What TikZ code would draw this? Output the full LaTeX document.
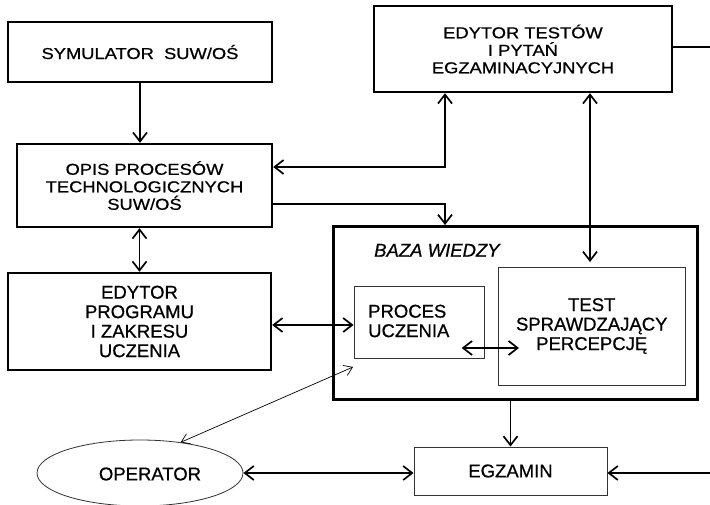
\documentclass[tikz,border=0pt]{standalone}
\usepackage{fontspec}
\setmainfont{Liberation Sans}[FakeBold=0.7]
\newfontfamily\widefont{Liberation Sans}[FakeStretch=1.16,FakeBold=0.7]
\usetikzlibrary{arrows.meta,shapes.geometric,calc}
\tikzset{
  upfont/.style={font=\widefont\fontsize{15.8}{17.5}\selectfont},
  lofont/.style={font=\fontsize{18.5}{19.5}\selectfont},
  itfont/.style={font=\itshape\fontsize{18.5}{19.5}\selectfont},
  thickbox/.style={draw, line width=2.4pt, inner sep=0pt, align=center},
  thinbox/.style={draw=black!80, line width=0.9pt, inner sep=0pt, align=center},
  conn/.style={line width=1.2pt, >={Straight Barb[length=9pt,width=14pt,line width=1.7pt]}},
  thinconn/.style={line width=0.7pt, >={Straight Barb[length=8pt,width=11pt,line width=0.7pt]}},
}
\begin{document}
\begin{tikzpicture}[x=1pt,y=-1pt]
\useasboundingbox (0,0) rectangle (710,505);
% boxes
\node[thickbox, upfont, minimum width=264pt, minimum height=60pt] (sym) at (140,52) {SYMULATOR\ \ SUW/OŚ};
\node[thickbox, upfont, minimum width=255pt, minimum height=83pt] (opis) at (144.5,185.5) {OPIS PROCESÓW\\TECHNOLOGICZNYCH\\SUW/OŚ};
\node[thickbox, upfont, minimum width=298pt, minimum height=86pt] (et) at (523,49) {EDYTOR TESTÓW\\I PYTAŃ\\EGZAMINACYJNYCH};
\node[thickbox, lofont, minimum width=263pt, minimum height=97pt] (edp) at (139.5,321.5) {EDYTOR\\PROGRAMU\\I ZAKRESU\\UCZENIA};
\node[draw, line width=3pt, minimum width=364.5pt, minimum height=172.5pt] (baza) at (515.25,312.75) {};
\node[itfont, anchor=base west, inner sep=0pt] (bazat) at (374,256.7) {BAZA WIEDZY};
\node[thinbox, minimum width=130pt, minimum height=72pt] (proc) at (419,322) {};
\node[lofont, align=left, anchor=west, inner sep=0pt] (proct) at (368,321) {PROCES\\UCZENIA};
\node[thinbox, lofont, minimum width=187.5pt, minimum height=118pt] (test) at (591.75,326) {TEST\\SPRAWDZAJĄCY\\PERCEPCJĘ};
\node[thinbox, lofont, minimum width=193pt, minimum height=48pt] (egz) at (510.5,471) {EGZAMIN};
\node[draw=black!80, line width=0.8pt, ellipse, minimum width=206pt, minimum height=66pt, inner sep=0pt] (op) at (140,473) {};
\node[lofont, inner sep=0pt] (opt) at (150,474) {OPERATOR};
% helper coordinates
\coordinate (c1) at (445,167);
\coordinate (c2) at (445,204);
\coordinate (c3) at (590,262);
\coordinate (c4) at (710,47);
\coordinate (c5) at (0,325);
\coordinate (c6a) at (461.7,348);
\coordinate (c6b) at (519,348);
\coordinate (c7) at (710,473);
\coordinate (c8) at (353,367);
% connectors
\draw[conn,->] (sym.south) -- (sym.south |- opis.north);
\draw[conn,<->] (edp.north) -- (edp.north |- opis.south);
\draw[conn,<->] (c1 -| opis.east) -- (c1) -- (c1 |- et.south);
\draw[conn,->] (c2 -| opis.east) -- (c2) -- (c2 |- baza.north);
\draw[conn,<->] (c3 |- et.south) -- (c3);
\draw[conn] (c4 -| et.east) -- (c4);
\draw[conn,<->] (c5 -| edp.east) -- (c5 -| proc.west);
\draw[conn,<->] (c6a) -- (c6b);
\draw[conn,->] (egz.north |- baza.south) -- (egz.north);
\draw[conn,<->] (op.east) -- (op.east -| egz.west);
\draw[conn,->] (c7) -- (c7 -| egz.east);
\draw[thinconn,<->] (op.37) -- (c8);
\end{tikzpicture}
\end{document}
